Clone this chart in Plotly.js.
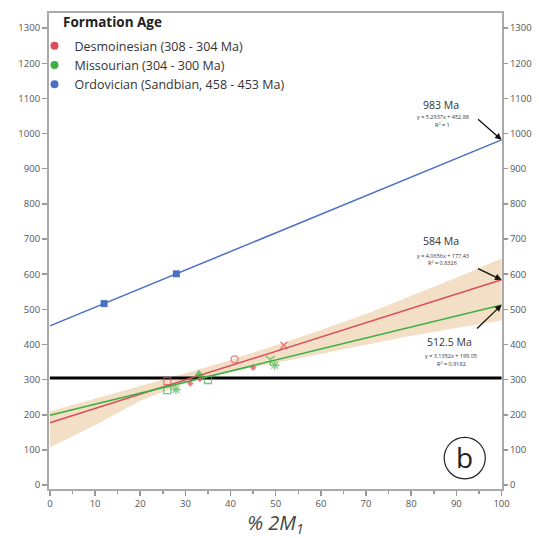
<!DOCTYPE html>
<html>
<head>
<meta charset="utf-8">
<script src="https://cdn.plot.ly/plotly-3.0.1.min.js"></script>
<style>html,body{margin:0;padding:0;background:#fff;}#chart{width:539px;height:538px;}</style>
</head>
<body>
<div id="chart"></div>
<script>
// ---- data ----
const legendTitle = "Formation Age";
const legendNames = ["Desmoinesian (308 - 304 Ma)", "Missourian (304 - 300 Ma)", "Ordovician (Sandbian, 458 - 453 Ma)"];
const colors = ["#dc4d5c", "#3cb043", "#4a6fc4"];

const fitX = [0, 100];
const redFit = [177.43, 584.0];
const greenFit = [199.05, 512.57];
const blueFit = [452.88, 982.25];

const bandX = [0, 10, 20, 30, 40, 50, 60, 70, 80, 90, 100];
const bandUpper = [210, 245, 282, 318, 356, 398, 441, 487, 538, 590, 645];
const bandLower = [108, 170, 240, 290, 322, 348, 374, 400, 425, 447, 468];

const refX = [0, 100];
const refY = [305, 305];

const redX = [26.0, 31.1, 33.2, 40.9, 45.0, 51.8];
const redY = [296, 289, 302, 358, 334, 398];
const redSym = ["square-open", "diamond", "diamond", "circle-open", "diamond", "x-thin-open"];
const redSize = [7, 3.5, 3.5, 7, 3.5, 7];

const greenX = [26.0, 27.9, 33.0, 35.0, 48.8, 49.8];
const greenY = [270, 272, 315, 299, 358, 341];
const greenSym = ["square-open", "asterisk-open", "triangle-up", "square-open", "y-down-open", "asterisk-open"];
const greenSize = [7, 8, 7, 7, 8, 8];

const blueX = [12, 28];
const blueY = [516.4, 601.1];

const xTicks = [0, 10, 20, 30, 40, 50, 60, 70, 80, 90, 100];
const yTicks = [0, 100, 200, 300, 400, 500, 600, 700, 800, 900, 1000, 1100, 1200, 1300];

// ---- traces ----
const traces = [];
for (let i = 0; i < 3; i++) {
  traces.push({x: [null], y: [null], mode: "markers", name: legendNames[i], marker: {color: colors[i], symbol: "circle", size: 8}});
}
traces.push({x: bandX, y: bandLower, mode: "lines", line: {width: 0}, hoverinfo: "skip", showlegend: false});
traces.push({x: bandX, y: bandUpper, mode: "lines", fill: "tonexty", fillcolor: "rgba(232,196,150,0.55)", line: {width: 0}, hoverinfo: "skip", showlegend: false});
traces.push({x: refX, y: refY, mode: "lines", line: {color: "#000", width: 3}, showlegend: false});
traces.push({x: fitX, y: blueFit, mode: "lines", line: {color: colors[2], width: 1.5}, showlegend: false});
traces.push({x: fitX, y: redFit, mode: "lines", line: {color: colors[0], width: 1.5}, showlegend: false});
traces.push({x: fitX, y: greenFit, mode: "lines", line: {color: colors[1], width: 1.5}, showlegend: false});
traces.push({x: redX, y: redY, mode: "markers", marker: {color: colors[0], symbol: redSym, size: redSize, line: {color: colors[0], width: 1.3}}, showlegend: false});
traces.push({x: greenX, y: greenY, mode: "markers", marker: {color: colors[1], symbol: greenSym, size: greenSize, line: {color: colors[1], width: 1.3}}, showlegend: false});
traces.push({x: blueX, y: blueY, mode: "markers", marker: {color: colors[2], symbol: "square", size: 7}, showlegend: false});
traces.push({x: [null], y: [null], yaxis: "y2", mode: "markers", showlegend: false, hoverinfo: "skip"});

const tickFont = {family: "Open Sans, sans-serif", size: 9.5, color: "#555"};
const yRange = [-11, 1343];

const ann = (x, y, text, size) => ({x, y, xref: "x", yref: "y", text, showarrow: false, font: {family: "Open Sans, sans-serif", size, color: "#333"}});
const arrow = (x, y, ax, ay) => ({x, y, xref: "x", yref: "y", text: "", showarrow: true, arrowhead: 2, arrowsize: 1, arrowwidth: 1.3, arrowcolor: "#111", ax, ay});

const layout = {
  width: 539, height: 538,
  margin: {l: 49, r: 37, t: 13, b: 49},
  paper_bgcolor: "#fff", plot_bgcolor: "#fff",
  showlegend: true,
  legend: {x: -0.032, y: 0.962, xanchor: "left", yanchor: "top", bgcolor: "rgba(0,0,0,0)", traceorder: "normal",
    font: {family: "Open Sans, sans-serif", size: 12.5, color: "#333"}, tracegroupgap: 0, itemsizing: "trace", itemwidth: 30},
  xaxis: {range: [-0.2, 100.1], tickvals: xTicks, ticks: "outside", ticklen: 5, tickcolor: "#999", tickwidth: 1.5,
    minor: {dtick: 5, ticks: "outside", ticklen: 3, tickcolor: "#999"},
    showline: true, linecolor: "#aaa", linewidth: 2, mirror: true, showgrid: false, zeroline: false, tickfont: tickFont,
    title: {text: "<i>% 2M<sub>1</sub></i>", font: {family: "Open Sans, sans-serif", size: 20, color: "#444"}, standoff: 4}},
  yaxis: {range: yRange, tickvals: yTicks, ticks: "outside", ticklen: 5, tickcolor: "#999", tickwidth: 1.5,
    showline: true, linecolor: "#aaa", linewidth: 2, mirror: true, showgrid: false, zeroline: false, tickfont: tickFont},
  yaxis2: {range: yRange, tickvals: yTicks, overlaying: "y", side: "right", ticks: "outside", ticklen: 5, tickcolor: "#999", tickwidth: 1.5,
    showline: false, showgrid: false, zeroline: false, tickfont: tickFont},
  shapes: [
    {type: "circle", xref: "x", yref: "y", x0: 87.3, x1: 96.4, y0: 18, y1: 136, line: {color: "#222", width: 1.2}}
  ],
  annotations: [
    {x: 0.026, y: 1.004, xref: "paper", yref: "paper", xanchor: "left", yanchor: "top", showarrow: false,
      text: "<b>" + legendTitle + "</b>", font: {family: "Open Sans, sans-serif", size: 13.5, color: "#222"}},
    ann(86.7, 1081, "983 Ma", 10.5),
    ann(87.0, 1046, "y = 5.2937x + 452.88", 5.5),
    ann(87.0, 1024, "R<sup>2</sup> = 1", 5.5),
    arrow(100, 982.25, -25, -22),
    ann(86.7, 694, "584 Ma", 10.5),
    ann(87.0, 653, "y = 4.0656x + 177.43", 5.5),
    ann(87.0, 631, "R<sup>2</sup> = 0.8326", 5.5),
    arrow(100, 584, -25, -12),
    ann(88.5, 407, "512.5 Ma", 10.5),
    ann(88.9, 366, "y = 3.1352x + 199.05", 5.5),
    ann(88.9, 344, "R<sup>2</sup> = 0.9182", 5.5),
    arrow(100, 512.57, -26, 25),
    {x: 91.85, y: 80, xref: "x", yref: "y", text: "b", showarrow: false, font: {family: "Open Sans, sans-serif", size: 28, color: "#222"}}
  ]
};

Plotly.newPlot("chart", traces, layout, {staticPlot: true, displayModeBar: false});
</script>
</body>
</html>
